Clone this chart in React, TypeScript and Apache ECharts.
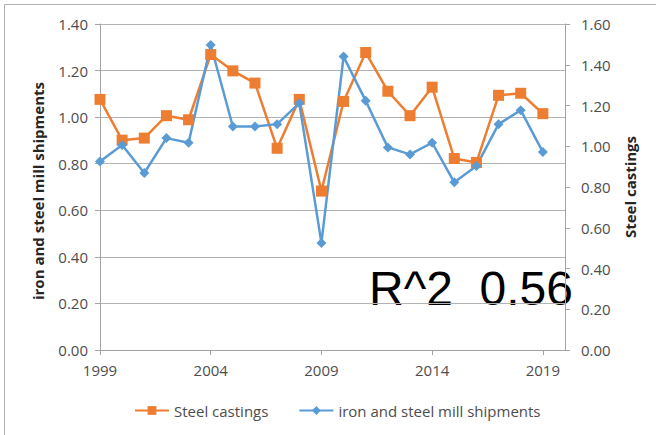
import { useEffect, useRef } from "react";
import * as echarts from "echarts";

const years = [
  "1999", "2000", "2001", "2002", "2003", "2004", "2005", "2006", "2007", "2008", "2009",
  "2010", "2011", "2012", "2013", "2014", "2015", "2016", "2017", "2018", "2019", "2020",
];
const steelCastings = [
  1.23, 1.03, 1.04, 1.15, 1.13, 1.45, 1.37, 1.31, 0.99, 1.23, 0.78,
  1.22, 1.46, 1.27, 1.15, 1.29, 0.94, 0.92, 1.25, 1.26, 1.16,
];
const millShipments = [
  0.81, 0.88, 0.76, 0.91, 0.89, 1.31, 0.96, 0.96, 0.97, 1.06, 0.46,
  1.26, 1.07, 0.87, 0.84, 0.89, 0.72, 0.79, 0.97, 1.03, 0.85,
];
const leftAxisRange = [0, 1.4, 0.2];
const rightAxisRange = [0, 1.6, 0.2];
const seriesNames = ["Steel castings", "iron and steel mill shipments"];
const leftTitle = "iron and steel mill shipments";
const rightTitle = "Steel castings";
const annotation = "R^2  0.56";

const FONT = "Open Sans";
const AXIS_COLOR = "#a3a3a3";
const GRID_COLOR = "#b3b3b3";
const LABEL_COLOR = "#4d4d4d";
const ORANGE = "#ED7D31";
const BLUE = "#5B9BD5";

export default function App() {
  const ref = useRef<HTMLDivElement>(null);
  useEffect(() => {
    if (!ref.current) return;
    const chart = echarts.init(ref.current, null, { renderer: "svg" });
    chart.setOption({
      animation: false,
      backgroundColor: "#ffffff",
      textStyle: { fontFamily: FONT },
      grid: { left: 100, right: 91, top: 24, bottom: 85 },
      legend: {
        left: 129,
        top: 398,
        itemWidth: 34,
        itemHeight: 11,
        itemGap: 30,
        data: seriesNames,
        textStyle: { fontFamily: FONT, fontSize: 15, color: LABEL_COLOR },
      },
      xAxis: {
        type: "category",
        data: years,
        boundaryGap: false,
        axisLine: { show: true, lineStyle: { color: AXIS_COLOR, width: 1 } },
        axisTick: { show: true, interval: 4, length: 5, lineStyle: { color: AXIS_COLOR } },
        axisLabel: { interval: 4, margin: 12, fontFamily: FONT, fontSize: 15, color: LABEL_COLOR },
        splitLine: { show: false },
      },
      yAxis: [
        {
          type: "value",
          min: leftAxisRange[0],
          max: leftAxisRange[1],
          interval: leftAxisRange[2],
          position: "left",
          axisLine: { show: true, lineStyle: { color: AXIS_COLOR, width: 1 } },
          axisTick: { show: true, length: 5, lineStyle: { color: AXIS_COLOR } },
          axisLabel: {
            margin: 12,
            fontFamily: FONT,
            fontSize: 15,
            color: LABEL_COLOR,
            formatter: (v: number) => v.toFixed(2),
          },
          splitLine: { show: true, lineStyle: { color: GRID_COLOR, width: 1 } },
        },
        {
          type: "value",
          min: rightAxisRange[0],
          max: rightAxisRange[1],
          interval: rightAxisRange[2],
          position: "right",
          axisLine: { show: true, lineStyle: { color: AXIS_COLOR, width: 1 } },
          axisTick: { show: true, length: 5, lineStyle: { color: AXIS_COLOR } },
          axisLabel: {
            margin: 16,
            fontFamily: FONT,
            fontSize: 15,
            color: LABEL_COLOR,
            formatter: (v: number) => v.toFixed(2),
          },
          splitLine: { show: false },
        },
      ],
      series: [
        {
          name: seriesNames[0],
          type: "line",
          yAxisIndex: 1,
          data: steelCastings,
          symbol: "rect",
          symbolSize: 11,
          showAllSymbol: true,
          lineStyle: { color: ORANGE, width: 2.5 },
          itemStyle: { color: ORANGE, borderWidth: 0 },
          emphasis: { disabled: true },
        },
        {
          name: seriesNames[1],
          type: "line",
          yAxisIndex: 0,
          data: millShipments,
          symbol: "diamond",
          symbolSize: 10,
          showAllSymbol: true,
          lineStyle: { color: BLUE, width: 2.5 },
          itemStyle: { color: BLUE, borderWidth: 0 },
          emphasis: { disabled: true },
        },
      ],
      graphic: [
        {
          type: "line",
          shape: { x1: 4.5, y1: 4.5, x2: 4.5, y2: 435 },
          style: { stroke: "#b0b0b0", lineWidth: 1 },
          silent: true,
        },
        {
          type: "line",
          shape: { x1: 4.5, y1: 4.5, x2: 656, y2: 4.5 },
          style: { stroke: "#b0b0b0", lineWidth: 1 },
          silent: true,
        },
        {
          type: "text",
          x: 38,
          y: 191,
          rotation: Math.PI / 2,
          style: {
            text: leftTitle,
            font: `bold 15px "${FONT}"`,
            fill: "#262626",
            align: "center",
            verticalAlign: "middle",
          },
          silent: true,
        },
        {
          type: "text",
          x: 630,
          y: 187,
          rotation: Math.PI / 2,
          style: {
            text: rightTitle,
            font: `bold 15px "${FONT}"`,
            fill: "#262626",
            align: "center",
            verticalAlign: "middle",
          },
          silent: true,
        },
        {
          type: "text",
          x: 369,
          y: 288,
          style: {
            text: annotation,
            font: `48px "Liberation Sans"`,
            fill: "#000000",
            align: "left",
            verticalAlign: "middle",
          },
          silent: true,
        },
      ],
    });
    return () => chart.dispose();
  }, []);
  return (
    <div
      ref={ref}
      style={{ position: "fixed", left: 0, top: 0, width: 656, height: 435 }}
    />
  );
}
